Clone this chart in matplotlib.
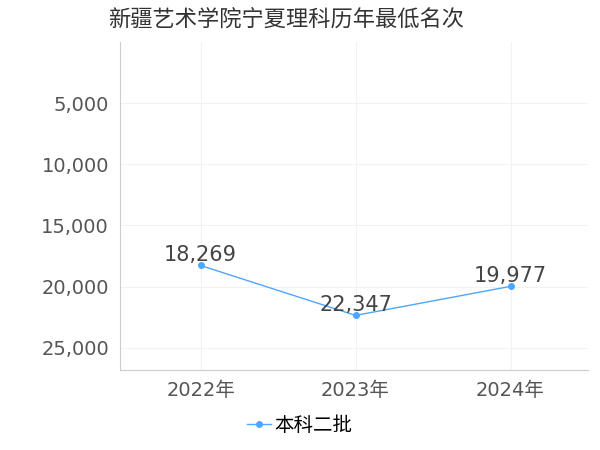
import matplotlib.pyplot as plt

plt.rcParams['font.family'] = ['DejaVu Sans', 'Noto Sans CJK SC']

years = ['2022年', '2023年', '2024年']
ranks = [18269, 22347, 19977]
series_name = '本科二批'
title = '新疆艺术学院宁夏理科历年最低名次'

fig = plt.figure(figsize=(6, 4.5), dpi=100)
ax = fig.add_axes([0.2, 0.178, 0.78, 0.729])
x = list(range(len(years)))
ax.plot(x, ranks, color='#4da6ff', lw=1, marker='o', ms=4, label=series_name)
for xi, v in zip(x, ranks):
    ax.annotate(f'{v:,}', (xi, v), xytext=(0, 0), textcoords='offset points',
                ha='center', va='bottom', fontsize=15, color='#444444')

ax.set_ylim(26800, 0)
ax.set_yticks([5000, 10000, 15000, 20000, 25000])
ax.set_yticklabels([f'{t:,}' for t in [5000, 10000, 15000, 20000, 25000]])
ax.set_xlim(-0.52, 2.5)
ax.set_xticks(x)
ax.set_xticklabels(years)
ax.tick_params(labelsize=14, colors='#555555', length=0, pad=8)
ax.grid(True, color='#f2f2f2', lw=0.8)
for s in ['top', 'right']:
    ax.spines[s].set_visible(False)
for s in ['left', 'bottom']:
    ax.spines[s].set_color('#cccccc')

fig.text(0.18, 0.955, title, fontsize=16, color='#333333', va='center')
fig.legend(loc='lower center', bbox_to_anchor=(0.5, -0.005), frameon=False,
           fontsize=14, handlelength=1.2, handletextpad=0.2)
fig.savefig('out.png')
